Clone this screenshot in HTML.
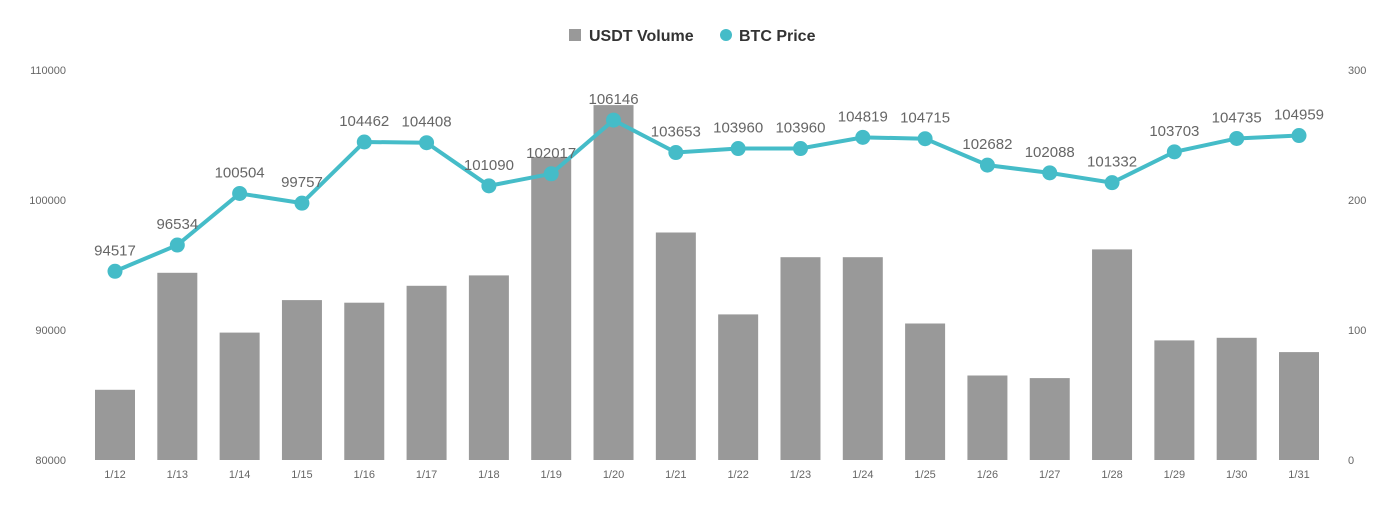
<!DOCTYPE html>
<html><head><meta charset="utf-8"><style>
body{margin:0;background:#fff;}
svg{display:block;font-family:"Liberation Sans",sans-serif;}
</style></head><body>
<svg id="chart" width="1393" height="506">
<g>
<rect x="569" y="29" width="12" height="12" fill="#999"/>
<text x="589" y="41" font-size="16" font-weight="bold" fill="#333">USDT Volume</text>
<circle cx="726" cy="35" r="6" fill="#45bcc8"/>
<text x="739" y="41" font-size="16" font-weight="bold" fill="#333">BTC Price</text>
</g>
<g id="axes"></g><g id="bars"></g><g id="line"></g>
</svg>
<script>
const categories=["1/12","1/13","1/14","1/15","1/16","1/17","1/18","1/19","1/20","1/21","1/22","1/23","1/24","1/25","1/26","1/27","1/28","1/29","1/30","1/31"];
const volume=[54,144,98,123,121,134,142,233,273,175,112,156,156,105,65,63,162,92,94,83];
const price=[94517,96534,100504,99757,104462,104408,101090,102017,106146,103653,103960,103960,104819,104715,102682,102088,101332,103703,104735,104959];
const leftTicks=[80000,90000,100000,110000];
const rightTicks=[0,100,200,300];
const NS="http://www.w3.org/2000/svg";
const yTop=70,yBot=460,x0=115,step=(1299-115)/19;
const yL=v=>yBot-(v-80000)/30000*(yBot-yTop);
const yR=v=>yBot-v/300*(yBot-yTop);
const xC=i=>x0+i*step;
function mk(t,a,p){const e=document.createElementNS(NS,t);for(const k in a)e.setAttribute(k,a[k]);p.appendChild(e);return e;}
const ax=document.getElementById('axes'),bg=document.getElementById('bars'),lg=document.getElementById('line');
leftTicks.forEach(v=>{const t=mk('text',{x:66,y:yL(v)+4,'font-size':11,fill:'#666','text-anchor':'end'},ax);t.textContent=v;

});
rightTicks.forEach(v=>{const t=mk('text',{x:1348,y:yR(v)+4,'font-size':11,fill:'#666'},ax);t.textContent=v;

});
categories.forEach((c,i)=>{const t=mk('text',{x:xC(i),y:478,'font-size':11,fill:'#666','text-anchor':'middle'},ax);t.textContent=c;


const b=mk('rect',{x:xC(i)-20,y:yR(volume[i]),width:40,height:yBot-yR(volume[i]),fill:'#999'},bg);

});
const pl=mk('polyline',{points:price.map((p,i)=>xC(i)+','+yL(p)).join(' '),fill:'none',stroke:'#45bcc8','stroke-width':4},lg);


price.forEach((p,i)=>{const c=mk('circle',{cx:xC(i),cy:yL(p),r:7.5,fill:'#45bcc8'},lg);


const t=mk('text',{x:xC(i),y:yL(p)-16,'font-size':15,fill:'#666','text-anchor':'middle'},lg);t.textContent=p;

});
</script>
</body></html>
